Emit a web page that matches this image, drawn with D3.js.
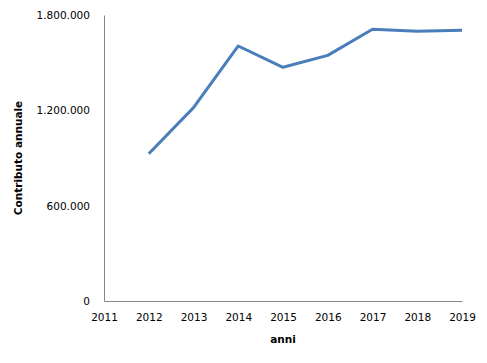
<!DOCTYPE html>
<html><head><meta charset="utf-8">
<script src="https://cdn.jsdelivr.net/npm/d3@7"></script>
<style>body{margin:0;background:#fff}svg{display:block}</style>
</head><body>
<script>
const years = [2011, 2012, 2013, 2014, 2015, 2016, 2017, 2018, 2019];
const dataYears = [2012, 2013, 2014, 2015, 2016, 2017, 2018, 2019];
const contributi = [927000, 1217000, 1605000, 1471000, 1546000, 1710000, 1697000, 1704000];
const yTicks = [0, 600000, 1200000, 1800000];

const W = 487, H = 363;
const svg = d3.select("body").append("svg").attr("width", W).attr("height", H);
const font = "DejaVu Sans, Tahoma, sans-serif";

const x = d3.scalePoint().domain(years).range([104, 462]);
const y = d3.scaleLinear().domain([0, 1800000]).range([301, 15]);

const fmt = d3.formatLocale({decimal: ",", thousands: ".", grouping: [3], currency: ["€", ""]}).format(",d");

// Y axis
const ya = svg.append("g").attr("transform", "translate(104,0)")
  .call(d3.axisLeft(y).tickValues(yTicks).tickFormat(fmt).tickSize(0).tickPadding(14));
ya.select(".domain").attr("stroke", "#868686");
ya.selectAll("text").attr("font-family", font).attr("font-size", "10.5px").attr("fill", "#000");

// X axis
const xa = svg.append("g").attr("transform", "translate(0,301)")
  .call(d3.axisBottom(x).tickSize(0).tickPadding(13));
xa.select(".domain").attr("stroke", "#868686");
xa.selectAll("text").attr("font-family", font).attr("font-size", "10.5px").attr("fill", "#000");

// Line
const line = d3.line().x((d, i) => x(dataYears[i])).y(d => y(d));
svg.append("path").datum(contributi).attr("d", line)
  .attr("fill", "none").attr("stroke", "#4a7ebb").attr("stroke-width", 3)
  .attr("stroke-linejoin", "round");

// Titles
svg.append("text").attr("transform", "translate(22,158) rotate(-90)")
  .attr("text-anchor", "middle").attr("font-family", font).attr("font-size", "10.5px")
  .attr("font-weight", "bold").text("Contributo annuale");
svg.append("text").attr("x", 283).attr("y", 343)
  .attr("text-anchor", "middle").attr("font-family", font).attr("font-size", "10.5px")
  .attr("font-weight", "bold").text("anni");
</script>
</body></html>
